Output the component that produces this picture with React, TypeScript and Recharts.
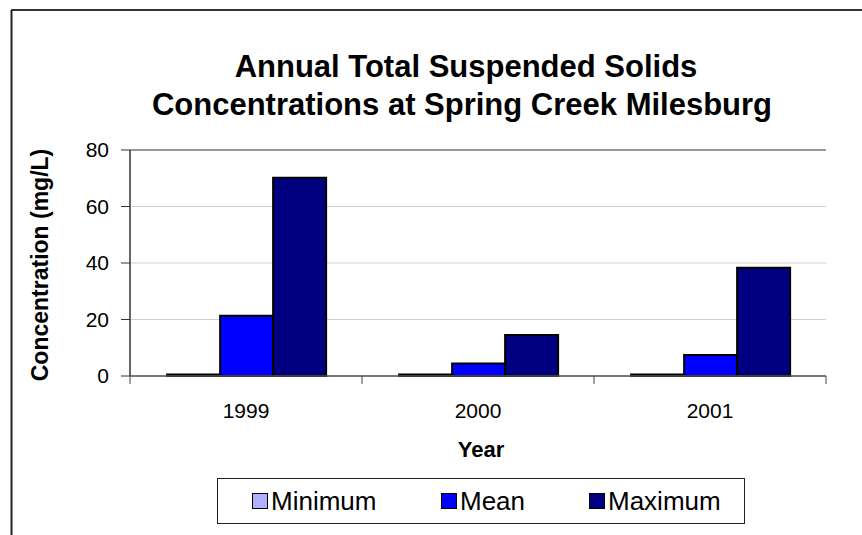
import React from "react"
import {
    BarChart,
    Bar,
    XAxis,
    YAxis,
    CartesianGrid,
    ReferenceLine,
} from "recharts";

const years = ["1999", "2000", "2001"]
const minimum = [0.5, 0.5, 0.5]
const mean = [21.3, 4.4, 7.4]
const maximum = [70.2, 14.5, 38.3]
const yTicks = [0, 20, 40, 60, 80]

const data = years.map((year, i) => ({
    year,
    minimum: minimum[i],
    mean: mean[i],
    maximum: maximum[i],
}))

const W = 862
const H = 535
const PLOT_LEFT = 130
const PLOT_RIGHT = 826
const PLOT_TOP = 150
const PLOT_BOTTOM = 376
const X_AXIS_H = 60
const FONT = "'Liberation Sans', Arial, sans-serif"

const series = [
    { key: "minimum", name: "Minimum", color: "#b0b0ff" },
    { key: "mean", name: "Mean", color: "#0000ff" },
    { key: "maximum", name: "Maximum", color: "#000080" },
]

// year label at the band centre, tick marks on the band edges
const YearTick = (props: any) => {
    const { x, payload, index } = props
    const y = PLOT_BOTTOM
    const band = (PLOT_RIGHT - PLOT_LEFT) / years.length
    const left = x - band / 2
    return (
        <g>
            <line x1={left} y1={y} x2={left} y2={y + 8} stroke="#444" strokeWidth={1} />
            {index === years.length - 1 && (
                <line x1={left + band} y1={y} x2={left + band} y2={y + 8} stroke="#444" strokeWidth={1} />
            )}
            <text x={x} y={y + 42} textAnchor="middle" fontSize={21} fontFamily={FONT} fill="#000">
                {payload.value}
            </text>
        </g>
    )
}

const LegendBox = () => (
    <div
        style={{
            position: "absolute",
            left: 217,
            top: 478,
            width: 528,
            height: 46,
            border: "1px solid #222",
            boxSizing: "border-box",
            fontFamily: FONT,
            fontSize: 26,
            color: "#000",
        }}
    >
        {series.map((s, i) => (
            <div
                key={s.key}
                style={{
                    position: "absolute",
                    left: [34, 223, 371][i],
                    top: 7,
                    display: "flex",
                    alignItems: "center",
                    height: 30,
                }}
            >
                <span
                    style={{
                        display: "inline-block",
                        width: 14,
                        height: 14,
                        background: s.color,
                        border: "1px solid #000",
                        marginRight: 3,
                    }}
                />
                <span>{s.name}</span>
            </div>
        ))}
    </div>
)

const App: React.FC = () => {
    return (
        <div style={{ position: "absolute", left: 0, top: 0, width: W, height: H, background: "#fff" }}>
            <BarChart
                width={W}
                height={H}
                data={data}
                margin={{ top: PLOT_TOP, right: W - PLOT_RIGHT, bottom: H - PLOT_BOTTOM - X_AXIS_H, left: 60 }}
                barCategoryGap="16%"
                barGap={0}
            >
                <CartesianGrid horizontal vertical={false} stroke="#d0d0d0" strokeWidth={1} />
                <XAxis
                    dataKey="year"
                    height={X_AXIS_H}
                    axisLine={{ stroke: "#555", strokeWidth: 1.5 }}
                    tickLine={false}
                    tick={<YearTick />}
                    interval={0}
                />
                <YAxis
                    domain={[0, 80]}
                    ticks={yTicks}
                    width={70}
                    axisLine={{ stroke: "#333", strokeWidth: 1.5 }}
                    tickLine={{ stroke: "#333" }}
                    tickSize={9}
                    tickMargin={12}
                    tick={{ fontSize: 21, fontFamily: FONT, fill: "#000" }}
                />
                <YAxis yAxisId="right" orientation="right" width={0} domain={[0, 80]} tick={false} tickLine={false} axisLine={{ stroke: "#999", strokeWidth: 2 }} />
                <ReferenceLine y={80} stroke="#999" strokeWidth={2} />
                {series.map((s) => (
                    <Bar
                        key={s.key}
                        dataKey={s.key}
                        name={s.name}
                        fill={s.color}
                        stroke="#000"
                        strokeWidth={2}
                        isAnimationActive={false}
                    />
                ))}
            </BarChart>
            <svg width={W} height={H} style={{ position: "absolute", left: 0, top: 0, pointerEvents: "none" }}>
                <line x1={11.5} y1={10} x2={11.5} y2={H} stroke="#222" strokeWidth={2} />
                <line x1={11} y1={10} x2={W} y2={10} stroke="#333" strokeWidth={2} />
                <text x={466} y={77} textAnchor="middle" fontSize={31} fontWeight="bold" fontFamily={FONT}>
                    Annual Total Suspended Solids
                </text>
                <text x={462} y={115} textAnchor="middle" fontSize={31} fontWeight="bold" fontFamily={FONT}>
                    Concentrations at Spring Creek Milesburg
                </text>
                <text
                    x={0}
                    y={0}
                    transform="translate(48,265) rotate(-90)"
                    textAnchor="middle"
                    fontSize={23}
                    fontWeight="bold"
                    fontFamily={FONT}
                >
                    Concentration (mg/L)
                </text>
                <text x={481} y={457} textAnchor="middle" fontSize={22} fontWeight="bold" fontFamily={FONT}>
                    Year
                </text>
            </svg>
            <LegendBox />
        </div>
    )
}

export default App;
